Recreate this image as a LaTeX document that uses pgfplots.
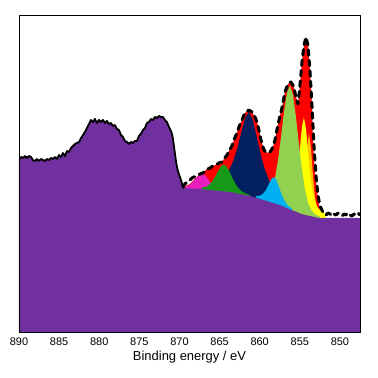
\documentclass[border=0pt]{standalone}
\usepackage{fontspec}
\setmainfont{Liberation Sans}
\usepackage{pgfplots}
\usepackage{pgfplotstable}
\pgfplotsset{compat=1.18}
\definecolor{cpurple}{HTML}{7030A0}
\definecolor{cnavy}{HTML}{002060}
\definecolor{ccyan}{HTML}{00B0F0}
\definecolor{clgreen}{HTML}{92D050}
\definecolor{cyellow}{HTML}{FFFF00}
\definecolor{corange}{HTML}{FFC000}
\definecolor{cgreen}{HTML}{189818}
\definecolor{cmagenta}{HTML}{E81EBE}
\definecolor{cred}{HTML}{FF0000}

% measured spectrum, satellite region (background = data here)
\pgfplotstableread{
E v
890.00 173
889.75 175
889.50 174
889.25 176
889.00 174
888.75 176
888.50 175
888.26 172
888.01 171
887.76 173
887.51 171
887.26 173
887.01 172
886.76 171
886.51 173
886.26 172
886.01 174
885.76 173
885.51 175
885.26 173
885.02 177
884.77 175
884.52 179
884.27 176
884.02 181
883.77 180
883.52 184
883.27 186
883.02 188
882.77 189
882.52 190
882.27 194
882.02 197
881.78 200
881.53 204
881.28 208
881.03 212
880.78 210
880.53 213
880.28 209
880.03 212
879.78 210
879.53 212
879.28 209
879.03 211
878.79 208
878.54 209
878.29 206
878.04 207
877.79 203
877.54 202
877.29 197
877.04 195
876.79 191
876.54 190
876.29 188
876.04 190
875.79 189
875.55 191
875.30 191
875.05 196
874.80 198
874.55 202
874.30 204
874.05 209
873.80 210
873.55 213
873.30 212
873.05 215
872.80 214
872.55 216
872.31 215
872.06 215
871.81 212
871.56 210
871.31 205
871.06 201
870.93 198
870.81 193
870.69 186
870.56 178
870.44 171
870.31 165
870.19 161
869.94 155
869.69 149
869.56 145
869.44 144
}\leftdata

% measured spectrum, Ni 2p3/2 region
\pgfplotstableread{
E v
869.56 145
869.44 147
869.19 149
868.94 151
868.69 152
868.44 154
868.19 155
867.82 156
867.45 158
867.07 159
866.70 162
866.20 164
865.83 166
865.45 167
865.08 169
864.70 170
864.45 173
864.08 177
863.83 181
863.46 186
863.21 192
862.84 199
862.59 205
862.21 212
861.96 217
861.71 220
861.34 222
860.97 220
860.59 215
860.34 210
860.22 206
859.97 197
859.84 192
859.47 182
859.22 180
858.97 179
858.72 180
858.47 183
858.22 188
858.10 192
857.73 207
857.48 216
857.23 224
856.85 240
856.48 248
856.11 250
855.86 247
855.73 244
855.48 235
855.23 228
855.11 236
854.98 247
854.73 270
854.49 286
854.24 295
853.99 287
853.74 262
853.49 227
853.24 187
852.99 157
852.74 137
852.49 126
852.12 120
851.74 117
851.49 119
851.25 118
851.00 116
850.75 118
850.50 117
850.25 119
850.00 117
849.75 116
849.50 118
849.25 117
849.00 119
848.75 117
848.50 116
848.26 118
848.01 117
847.76 119
847.51 117
}\peakdata

% fitted envelope
\pgfplotstableread{
E v
869.56 144
869.19 146
868.69 148
868.19 152
867.82 155
867.45 157
867.07 159
866.70 162
866.20 164
865.83 166
865.45 167
865.08 169
864.70 170
864.45 173
864.08 177
863.83 181
863.46 186
863.21 192
862.84 199
862.59 205
862.21 212
861.96 217
861.71 220
861.34 222
860.97 220
860.59 215
860.34 210
860.22 206
859.97 197
859.84 192
859.47 182
859.22 180
858.97 179
858.72 180
858.47 183
858.22 188
858.10 192
857.73 207
857.48 216
857.23 224
856.85 240
856.48 248
856.11 250
855.86 247
855.73 244
855.48 235
855.23 228
855.11 236
854.98 247
854.73 270
854.49 286
854.24 295
853.99 287
853.74 262
853.49 227
853.36 190
853.24 176
853.12 160
852.99 150
852.87 142
852.62 127
852.37 119
852.12 116
851.74 114
}\envelope

% background beyond the satellite region
\pgfplotstableread{
E v
869.56 145
869.44 144
868.69 143.5
867.45 143
866.20 142
864.95 141
863.71 140
862.46 138
861.21 136
859.97 133
858.72 130
857.48 127
856.23 122.5
855.36 120
854.98 118.5
854.36 117
853.74 116
853.12 115
852.74 114
847.51 114
}\bgtail

\pgfplotstableread{
E v
869.44 145.1
868.94 146.1
868.44 149.1
867.94 153.9
867.57 157.4
867.20 158.8
866.82 156.9
866.45 152.9
865.95 147.5
865.45 143.9
864.95 142.1
864.45 141.2
}\magenta

\pgfplotstableread{
E v
867.20 144.3
866.70 145.2
866.32 147.0
865.95 150.2
865.58 155.0
865.20 160.7
864.83 165.7
864.45 167.6
864.08 165.1
863.71 159.5
863.33 152.9
862.96 147.2
862.59 143.1
862.21 140.4
861.71 138.3
861.21 136.9
}\green

\pgfplotstableread{
E v
866.82 147.5
865.83 149.0
865.08 151.4
864.45 155.1
863.83 161.8
863.33 170.3
862.84 182.4
862.34 198.1
861.84 213.6
861.34 220.2
860.84 211.7
860.34 194.2
859.84 176.5
859.35 162.4
858.85 152.0
858.22 143.3
857.60 137.6
856.85 132.0
855.86 126.4
854.86 122.0
853.74 118.7
}\navy

\pgfplotstableread{
E v
860.47 136.0
859.97 136.4
859.59 138.2
859.22 142.1
858.97 145.9
858.72 150.2
858.47 153.7
858.22 154.8
857.97 152.5
857.73 147.8
857.48 142.3
857.23 136.5
856.85 130.4
856.48 126.4
855.98 123.6
}\cyan

\pgfplotstableread{
E v
859.97 134.4
859.35 134.3
858.85 136.9
858.47 142.7
858.10 153.8
857.73 171.6
857.35 194.6
856.98 219.6
856.60 239.3
856.23 246.5
855.86 237.3
855.48 215.2
855.11 187.6
854.73 162.1
854.36 142.3
853.99 129.7
853.61 122.4
853.12 117.8
852.49 115.4
}\lgreen

\pgfplotstableread{
E v
857.23 130.1
856.60 130.4
856.11 133.1
855.73 139.9
855.48 149.1
855.23 163.7
854.98 183.4
854.86 194.7
854.73 204.9
854.49 214.8
854.24 203.8
854.11 193.0
853.99 181.3
853.74 160.0
853.49 144.3
853.24 134.0
852.87 125.7
852.37 120.5
851.74 118.0
}\yellow

\pgfplotstableread{
E v
855.73 123.3
855.23 123.8
854.86 127.9
854.61 138.0
854.36 158.0
854.24 171.1
854.11 184.2
853.86 198.2
853.61 183.4
853.49 169.9
853.36 156.4
853.12 135.4
852.87 124.3
852.49 118.1
851.99 116.2
}\orange

\begin{document}
\begin{tikzpicture}
\useasboundingbox (-19bp,-46bp) rectangle (359bp,332bp);
\begin{axis}[
  at={(0,0)}, anchor=south west,
  scale only axis, width=341bp, height=317bp,
  xmin=847.5, xmax=890, ymin=0, ymax=317,
  x dir=reverse,
  xtick={850,855,...,890},
  ytick=\empty,
  major tick length=0pt,
  axis on top,
  axis line style={line width=0.8bp},
  /pgf/number format/assume math mode=true,
  xticklabel style={font=\fontsize{11}{13}\selectfont, yshift=-2bp},
  xlabel={Binding energy / eV},
  xlabel style={font=\fontsize{13}{15}\selectfont, yshift=1.5bp},
  every axis plot/.append style={line join=round},
]
\addplot[draw=none, fill=cred] table[x=E, y=v] {\envelope} \closedcycle;
\addplot[draw=none, fill=corange] table[x=E, y=v] {\orange} \closedcycle;
\addplot[draw=none, fill=cyellow] table[x=E, y=v] {\yellow} \closedcycle;
\addplot[draw=none, fill=cnavy] table[x=E, y=v] {\navy} \closedcycle;
\addplot[draw=none, fill=clgreen] table[x=E, y=v] {\lgreen} \closedcycle;
\addplot[draw=none, fill=ccyan] table[x=E, y=v] {\cyan} \closedcycle;
\addplot[draw=none, fill=cmagenta] table[x=E, y=v] {\magenta} \closedcycle;
\addplot[draw=none, fill=cgreen] table[x=E, y=v] {\green} \closedcycle;
\addplot[draw=none, fill=cpurple] table[x=E, y=v] {\leftdata} \closedcycle;
\addplot[draw=none, fill=cpurple] table[x=E, y=v] {\bgtail} \closedcycle;
\addplot[black, line width=1.8bp] table[x=E, y=v] {\leftdata};
\addplot[black, line width=3bp, line cap=round, dash pattern=on 5.5bp off 5bp] table[x=E, y=v] {\peakdata};
\end{axis}
\end{tikzpicture}
\end{document}
